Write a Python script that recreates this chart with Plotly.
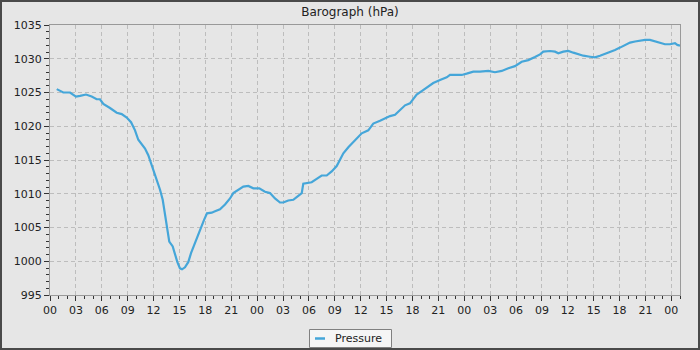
import plotly.graph_objects as go

# hours since start of first day (00:00)
HOURS = [0.78, 1.54, 2.32, 3.01, 3.48, 4.17, 4.83, 5.41, 5.79, 6.18, 6.95, 7.73, 8.31, 8.89,
         9.39, 9.85, 10.23, 11.01, 11.39, 11.78, 12.17, 12.36, 12.75, 13.06, 13.33, 13.59,
         13.82, 14.22, 14.48, 14.75, 15.06, 15.30, 15.64, 16.03, 16.34, 16.69, 17.07, 17.50,
         17.84, 18.19, 18.74, 19.12, 19.70, 20.28, 20.86, 21.24, 21.82, 22.40, 22.98, 23.56,
         24.25, 24.91, 25.49, 26.07, 26.65, 27.03, 27.61, 28.19, 28.77, 29.17, 29.35, 29.75,
         30.32, 30.90, 31.48, 32.06, 32.64, 33.22, 33.60, 33.99, 34.57, 35.14, 35.72, 36.12,
         36.88, 37.46, 38.24, 38.82, 39.40, 39.98, 40.56, 41.14, 41.71, 42.49, 43.07, 43.65,
         44.41, 45.19, 45.97, 46.35, 47.13, 47.71, 48.28, 49.05, 49.83, 50.79, 51.56, 52.34,
         53.11, 53.88, 54.66, 55.42, 56.20, 56.78, 57.16, 57.94, 58.52, 58.90, 59.48, 60.06,
         60.64, 61.22, 61.80, 62.57, 63.15, 63.73, 64.31, 64.89, 65.47, 66.05, 66.63, 67.21,
         67.79, 68.37, 68.95, 69.52, 70.10, 70.68, 71.26, 71.84, 72.42, 72.69, 73.0]

PRESSURE = [1025.5, 1025.0, 1025.0, 1024.4, 1024.5, 1024.7, 1024.4, 1024.0, 1024.0, 1023.3,
            1022.7, 1022.0, 1021.8, 1021.3, 1020.6, 1019.4, 1018.0, 1016.7, 1015.7, 1014.3,
            1013.0, 1012.0, 1010.6, 1009.1, 1007.1, 1004.6, 1002.9, 1002.2, 1000.9, 999.9,
            998.95, 998.8, 999.1, 999.9, 1001.2, 1002.4, 1003.6, 1005.1, 1006.1, 1007.1,
            1007.2, 1007.4, 1007.7, 1008.4, 1009.3, 1010.1, 1010.6, 1011.05, 1011.15, 1010.8,
            1010.8, 1010.3, 1010.1, 1009.3, 1008.7, 1008.7, 1009.0, 1009.1, 1009.7, 1010.1,
            1011.5, 1011.6, 1011.7, 1012.2, 1012.7, 1012.7, 1013.3, 1014.1, 1015.0, 1016.0,
            1016.9, 1017.6, 1018.45, 1018.95, 1019.4, 1020.4, 1020.8, 1021.2, 1021.5, 1021.7,
            1022.4, 1023.1, 1023.4, 1024.7, 1025.2, 1025.7, 1026.4, 1026.85, 1027.25, 1027.6,
            1027.6, 1027.6, 1027.8, 1028.1, 1028.1, 1028.2, 1028.0, 1028.2, 1028.6, 1028.9,
            1029.55, 1029.8, 1030.25, 1030.65, 1031.05, 1031.15, 1031.05, 1030.8, 1031.05,
            1031.15, 1030.9, 1030.65, 1030.45, 1030.3, 1030.2, 1030.45, 1030.7, 1031.05,
            1031.3, 1031.65, 1032.05, 1032.4, 1032.55, 1032.7, 1032.8, 1032.8, 1032.55,
            1032.4, 1032.15, 1032.15, 1032.3, 1032.05, 1031.95]

TICK_HOURS = [0, 3, 6, 9, 12, 15, 18, 21, 24, 27, 30, 33, 36, 39, 42, 45, 48, 51, 54, 57,
              60, 63, 66, 69, 72]
TICK_LABELS = ["00", "03", "06", "09", "12", "15", "18", "21", "00", "03", "06", "09", "12",
               "15", "18", "21", "00", "03", "06", "09", "12", "15", "18", "21", "00"]

SERIES_NAME = "Pressure"
LINE_COLOR = "#45a6d9"
BG = "#e6e6e6"
FONT = "DejaVu Sans"

fig = go.Figure()
fig.add_trace(go.Scatter(
    x=HOURS, y=PRESSURE, mode="lines", name=SERIES_NAME,
    line=dict(color=LINE_COLOR, width=2.2),
    showlegend=False,
))

W, H = 700, 350
L, R, T, B = 50, 20, 25, 55
pw, ph = W - L - R, H - T - B


def px(xp):
    return (xp - L) / pw


def py(yp):
    return (H - B - yp) / ph


shapes = [
    # outer frame
    dict(type="rect", xref="paper", yref="paper",
         x0=px(1), x1=px(W - 1), y0=py(H - 1), y1=py(1),
         line=dict(color="#4a4a4a", width=2), fillcolor="rgba(0,0,0,0)", layer="above"),
    # legend box
    dict(type="rect", xref="paper", yref="paper",
         x0=px(309.5), x1=px(391.5), y0=py(347.5), y1=py(329.5),
         line=dict(color="#808080", width=1), fillcolor="#f5f5f5", layer="above"),
    # legend line sample
    dict(type="line", xref="paper", yref="paper",
         x0=px(315), x1=px(325), y0=py(338.5), y1=py(338.5),
         line=dict(color=LINE_COLOR, width=2.5), layer="above"),
]

annotations = [
    dict(text=SERIES_NAME, xref="paper", yref="paper", x=px(333), y=py(338),
         xanchor="left", yanchor="middle", showarrow=False,
         font=dict(size=11, family=FONT, color="#222222")),
]

fig.update_layout(
    width=W, height=H,
    margin=dict(l=L, r=R, t=T, b=B),
    paper_bgcolor=BG, plot_bgcolor=BG,
    font=dict(family=FONT, size=11, color="#222222"),
    title=dict(text="Barograph (hPa)", x=0.5, xref="container", xanchor="center",
               y=1 - 12 / H, yref="container", yanchor="middle",
               font=dict(size=12, family=FONT, color="#222222")),
    showlegend=False,
    xaxis=dict(
        range=[0, 73], tickvals=TICK_HOURS, ticktext=TICK_LABELS,
        showgrid=True, gridcolor="#bdbdbd", griddash="4px,3px", gridwidth=1,
        ticks="outside", ticklen=5, tickcolor="#333333", tickwidth=1,
        showline=True, linecolor="#999999", linewidth=1, mirror=True,
        zeroline=False,
        minor=dict(dtick=1, ticks="outside", ticklen=3, tickcolor="#333333", showgrid=False),
        tickfont=dict(size=11, family=FONT, color="#222222"),
    ),
    yaxis=dict(
        range=[995, 1035], dtick=5, tick0=995,
        showgrid=True, gridcolor="#bdbdbd", griddash="4px,3px", gridwidth=1,
        ticks="outside", ticklen=5, tickcolor="#333333", tickwidth=1,
        showline=True, linecolor="#999999", linewidth=1, mirror=True,
        zeroline=False,
        minor=dict(dtick=1, ticks="outside", ticklen=3, tickcolor="#333333", showgrid=False),
        tickfont=dict(size=11, family=FONT, color="#222222"),
    ),
    shapes=shapes,
    annotations=annotations,
)

fig.write_html("out.html")
